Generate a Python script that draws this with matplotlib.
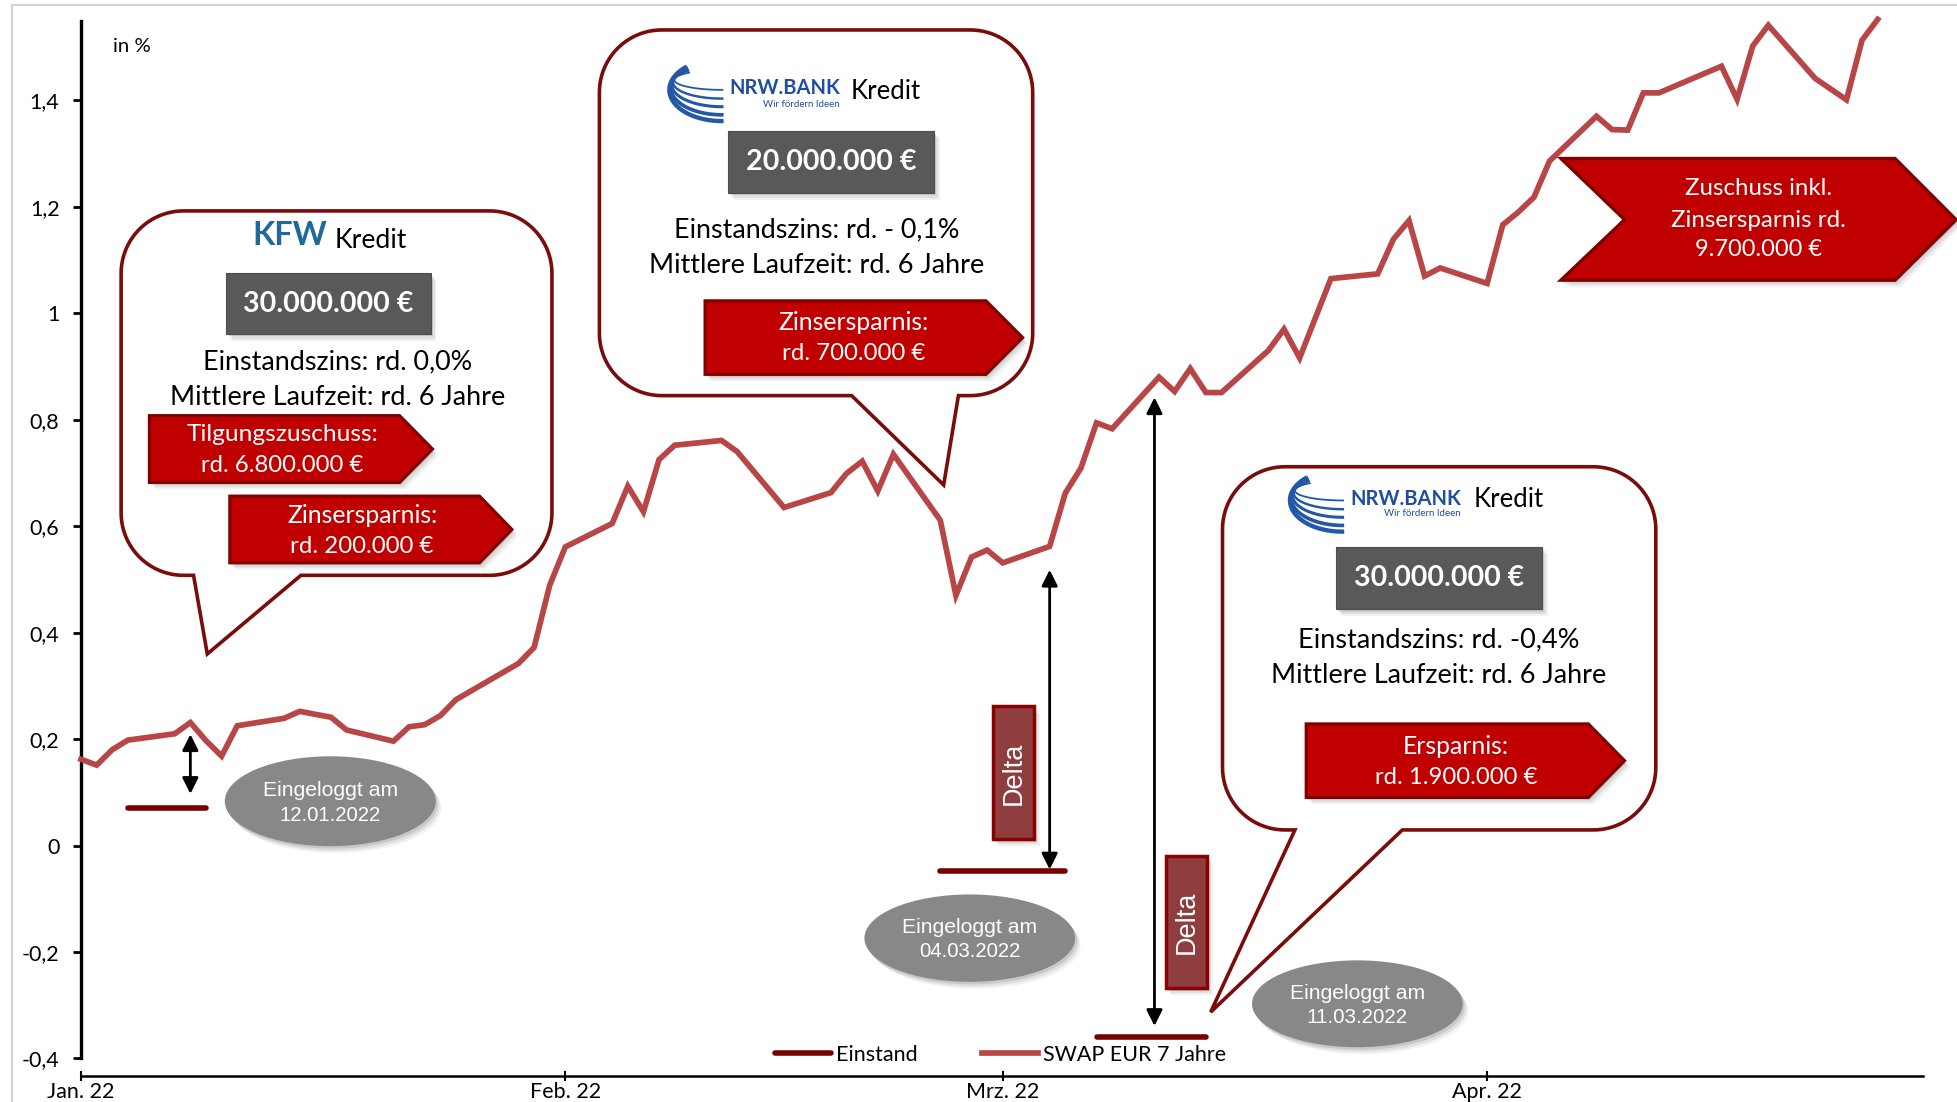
import numpy as np
import pandas as pd
import matplotlib
matplotlib.use("Agg")
import matplotlib.pyplot as plt
import matplotlib.dates as mdates
from matplotlib.patches import Polygon, Ellipse
from matplotlib import font_manager as fm

# ---------------- data ----------------
swap_dates = [
    "2022-01-04", "2022-01-05", "2022-01-06", "2022-01-07", "2022-01-10", "2022-01-11",
    "2022-01-12", "2022-01-13", "2022-01-14", "2022-01-17", "2022-01-18", "2022-01-20",
    "2022-01-21", "2022-01-24", "2022-01-25", "2022-01-26", "2022-01-27", "2022-01-28",
    "2022-02-01", "2022-02-02", "2022-02-03", "2022-02-04", "2022-02-07", "2022-02-08",
    "2022-02-09", "2022-02-10", "2022-02-11", "2022-02-14", "2022-02-15", "2022-02-18",
    "2022-02-21", "2022-02-22", "2022-02-23", "2022-02-24", "2022-02-25", "2022-02-28",
    "2022-03-01", "2022-03-02", "2022-03-03", "2022-03-04", "2022-03-07", "2022-03-08",
    "2022-03-09", "2022-03-10", "2022-03-11", "2022-03-14", "2022-03-15", "2022-03-16",
    "2022-03-17", "2022-03-18", "2022-03-21", "2022-03-22", "2022-03-23", "2022-03-25",
    "2022-03-28", "2022-03-29", "2022-03-30", "2022-03-31", "2022-04-01", "2022-04-04",
    "2022-04-05", "2022-04-06", "2022-04-07", "2022-04-08", "2022-04-11", "2022-04-12",
    "2022-04-13", "2022-04-14", "2022-04-15", "2022-04-19", "2022-04-20", "2022-04-21",
    "2022-04-22", "2022-04-25", "2022-04-27", "2022-04-28", "2022-04-29",
]
swap_values = [
    0.162, 0.151, 0.180, 0.198, 0.210, 0.231,
    0.197, 0.168, 0.225, 0.239, 0.252, 0.241,
    0.217, 0.196, 0.223, 0.227, 0.244, 0.274,
    0.342, 0.372, 0.489, 0.561, 0.605, 0.675,
    0.627, 0.725, 0.752, 0.761, 0.740, 0.635,
    0.663, 0.699, 0.722, 0.666, 0.735, 0.611,
    0.470, 0.542, 0.555, 0.531, 0.562, 0.662,
    0.709, 0.794, 0.783, 0.880, 0.853, 0.896,
    0.851, 0.851, 0.930, 0.970, 0.916, 1.065,
    1.074, 1.139, 1.174, 1.070, 1.085, 1.056,
    1.166, 1.190, 1.218, 1.286, 1.370, 1.345,
    1.344, 1.414, 1.414, 1.464, 1.402, 1.502,
    1.541, 1.441, 1.401, 1.513, 1.552,
]
einstand_start = ["2022-01-07", "2022-02-28", "2022-03-10"]
einstand_end = ["2022-01-12", "2022-03-08", "2022-03-17"]
einstand_values = [0.071, -0.047, -0.359]
delta_dates = ["2022-01-11", "2022-03-07", "2022-03-13 17:00"]
delta_top = [0.209, 0.518, 0.842]
delta_bottom = [0.097, -0.045, -0.339]
x_tick_dates = ["2022-01-04", "2022-02-04", "2022-03-04", "2022-04-04"]
x_tick_labels = ["Jan. 22", "Feb. 22", "Mrz. 22", "Apr. 22"]
y_ticks = [-0.4, -0.2, 0.0, 0.2, 0.4, 0.6, 0.8, 1.0, 1.2, 1.4]
y_tick_labels = ["-0,4", "-0,2", "0", "0,2", "0,4", "0,6", "0,8", "1", "1,2", "1,4"]
series_labels = ["Einstand", "SWAP EUR 7 Jahre"]

# ---------------- style ----------------
names = {f.name for f in fm.fontManager.ttflist}
BODY = "Lato" if "Lato" in names else "DejaVu Sans"
ARIAL = "Liberation Sans" if "Liberation Sans" in names else "DejaVu Sans"
plt.rcParams["font.family"] = [BODY, "DejaVu Sans"]

SWAP_C = "#B84646"
EIN_C = "#780000"
DARK = "#7A0C0C"
RED = "#C00000"
REDEDGE = "#7F0000"
GRAY = "#595959"
ELL = "#888888"
DELTA_F = "#8E3E3E"
DELTA_E = "#8B0000"
BLUE = "#1F4E9E"
KFW_C = "#1F6A98"

W, H = 1958, 1102
fig = plt.figure(figsize=(W / 100, H / 100), dpi=100)
fig.patch.set_facecolor("white")
renderer = fig.canvas.get_renderer()

# main axes
ax = fig.add_axes([81 / W, 1 - 1076 / H, (1923 - 81) / W, (1076 - 21) / H])
ax.set_zorder(1)
x_sw = mdates.date2num(pd.to_datetime(swap_dates))
x0 = mdates.date2num(pd.to_datetime(x_tick_dates[0]))
ax.set_xlim(x0, x0 + 117.9)
ax.set_ylim(-0.433, 1.549)

swap_line, = ax.plot(x_sw, swap_values, color=SWAP_C, lw=4.1, solid_joinstyle="miter",
                     clip_on=False, zorder=3, label=series_labels[1])
ein_lines = []
for s, e, v in zip(einstand_start, einstand_end, einstand_values):
    xs = mdates.date2num(pd.to_datetime([s, e]))
    ln, = ax.plot(xs, [v, v], color=EIN_C, lw=4, solid_capstyle="round", zorder=3)
    ein_lines.append(ln)

for d, t, b in zip(delta_dates, delta_top, delta_bottom):
    xd = mdates.date2num(pd.to_datetime(d))
    ax.annotate("", xy=(xd, b), xytext=(xd, t),
                arrowprops=dict(arrowstyle="<|-|>", color="black", lw=2.0,
                                mutation_scale=24, shrinkA=0, shrinkB=0), zorder=4)

ax.spines["top"].set_visible(False)
ax.spines["right"].set_visible(False)
ax.spines["left"].set_linewidth(2.4)
ax.spines["bottom"].set_linewidth(1.8)
ax.spines["left"].set_bounds(-0.4, 1.549)
ax.set_yticks(y_ticks)
ax.set_yticklabels(y_tick_labels)
ax.set_xticks(mdates.date2num(pd.to_datetime(x_tick_dates)))
ax.set_xticklabels(x_tick_labels)
ax.tick_params(axis="y", direction="out", length=5.5, width=2, pad=10, labelsize=15.5)
ax.tick_params(axis="x", direction="inout", length=7, width=1.5, pad=1, labelsize=15.5)
ax.patch.set_alpha(0)

fig.legend([ein_lines[0], swap_line], series_labels, loc="center left",
           bbox_to_anchor=(621 * 1.2487 / W, 1 - 845 * 1.248 / H), ncol=2, frameon=False,
           fontsize=15.5, handlelength=2.6, handletextpad=0.22, columnspacing=3.0,
           borderpad=0, borderaxespad=0)

# overlay in display units (1568 x 883)
ov = fig.add_axes([0, 0, 1, 1])
ov.set_xlim(0, 1568)
ov.set_ylim(883, 0)
ov.axis("off")
ov.set_zorder(5)
SC = W / 1568


def txt(x, y, s, fs, width=None, lo=0.82, hi=1.18, **kw):
    kw.setdefault("ha", "center")
    kw.setdefault("va", "center")
    t = ov.text(x, y, s, fontsize=fs, **kw)
    if width:
        w = t.get_window_extent(renderer).width
        f = fs * width * SC / w
        t.set_fontsize(min(max(f, lo * fs), hi * fs))
    return t


def shadow_poly(pts):
    pts = np.asarray(pts, float)
    for (dx, dy, a) in [(1.5, 2.0, 0.10), (3.0, 3.8, 0.08), (4.5, 5.5, 0.05)]:
        ov.add_patch(Polygon(pts + [dx, dy], closed=True, fc="black", ec="none", alpha=a))


def rect_pts(xa, ya, xb, yb):
    return [(xa, ya), (xb, ya), (xb, yb), (xa, yb)]


def red_arrow(xa, xb, xt, ya, yb):
    pts = [(xa, ya), (xb, ya), (xt, (ya + yb) / 2), (xb, yb), (xa, yb)]
    shadow_poly(pts)
    ov.add_patch(Polygon(pts, closed=True, fc=RED, ec=REDEDGE, lw=2.2, joinstyle="miter"))


def gray_box(xa, ya, xb, yb):
    pts = rect_pts(xa, ya, xb, yb)
    shadow_poly(pts)
    ov.add_patch(Polygon(pts, closed=True, fc=GRAY, ec="#4d4d4d", lw=0.8))


def bubble(xa, ya, xb, yb, r, tl, tr, tip):
    pts = []

    def arc(cx, cy, a0, a1):
        for a in np.radians(np.linspace(a0, a1, 24)):
            pts.append((cx + r * np.cos(a), cy + r * np.sin(a)))
    arc(xa + r, ya + r, 180, 270)
    arc(xb - r, ya + r, 270, 360)
    arc(xb - r, yb - r, 0, 90)
    pts.extend([(tr, yb), tip, (tl, yb)])
    arc(xa + r, yb - r, 90, 180)
    ov.add_patch(Polygon(pts, closed=True, fc="white", ec=DARK, lw=2.6, joinstyle="miter"))


def ellipse(cx, cy, w, h, l1, l2, y1, y2):
    for (dx, dy, a) in [(1.5, 2.0, 0.10), (3.0, 3.8, 0.08), (4.5, 5.5, 0.05)]:
        ov.add_patch(Ellipse((cx + dx, cy + dy), w, h, fc="black", ec="none", alpha=a))
    ov.add_patch(Ellipse((cx, cy), w, h, fc=ELL, ec="none"))
    txt(cx, y1, l1, 15, width=108.6, color="white", family=ARIAL)
    txt(cx, y2, l2, 15, width=81.4, color="white", family=ARIAL)


def delta_box(xa, ya, xb, yb):
    pts = rect_pts(xa, ya, xb, yb)
    shadow_poly(pts)
    ov.add_patch(Polygon(pts, closed=True, fc=DELTA_F, ec=DELTA_E, lw=2.5))
    ov.text((xa + xb) / 2, (ya + yb) / 2, "Delta", rotation=90, fontsize=19.5, color="white",
            family=ARIAL, ha="center", va="center")


def nrw_logo(xa, ya):
    # stylised swoosh: nested arcs converging top-left, fanning out bottom-right
    ends = [20, 27, 33.5, 40, 45]
    for k, ye in enumerate(ends):
        cx = xa + 42
        cy = ya + 12 + 2 * k
        a = 38 + 1.0 * k
        b = ye - (12 + 2 * k)
        t = np.radians(np.linspace(228, 88, 50))
        ov.plot(cx + a * np.cos(t), cy + b * np.sin(t), color="#2357A8",
                lw=1.3 + 0.45 * k, solid_capstyle="butt")


# page frame
ov.plot([9.4, 1568], [4.3, 4.3], color="#D4D4D4", lw=1.6)
ov.plot([9.4, 9.4], [4.3, 883], color="#D4D4D4", lw=1.6)

txt(90.5, 37, "in %", 14, width=30.5, ha="left")

# ---- KfW bubble ----
bubble(97, 169, 442, 461, 50, 155, 241, (166, 524))
txt(232, 189, "KFW", 24, width=60, color=KFW_C, fontweight="bold")
txt(297, 192.5, "Kredit", 19, width=58)
gray_box(181, 219, 345, 267.5)
txt(263, 243.5, "30.000.000 €", 21, width=135.7, color="white", fontweight="bold")
txt(270.7, 290, "Einstandszins: rd. 0,0%", 19, width=216.7)
txt(270.7, 318.7, "Mittlere Laufzeit: rd. 6 Jahre", 19, width=269.6)
red_arrow(119.6, 320, 346.4, 333, 386.6)
txt(226, 348, "Tilgungszuschuss:", 17.5, width=153.3, color="white")
txt(226, 373, "rd. 6.800.000 €", 17.5, width=129.8, color="white")
red_arrow(184, 384, 410, 397.5, 451)
txt(290, 413, "Zinsersparnis:", 17.5, width=120.3, color="white")
txt(290, 437.5, "rd. 200.000 €", 17.5, width=114.5, color="white")

# ---- NRW.BANK bubble 1 ----
bubble(480, 24, 827, 317, 50, 682, 767.5, (755.7, 388.6))
nrw_logo(536, 52)
txt(628.5, 70.5, "NRW.BANK", 15, width=89, color=BLUE, fontweight="bold")
txt(642, 83.5, "Wir fördern Ideen", 8, width=62, color=BLUE)
txt(709, 73, "Kredit", 19, width=56)
gray_box(583, 105, 748, 154.6)
txt(665.5, 130, "20.000.000 €", 21, width=135.8, color="white", fontweight="bold")
txt(653.7, 184, "Einstandszins: rd. - 0,1%", 19, width=228.8)
txt(653.7, 213, "Mittlere Laufzeit: rd. 6 Jahre", 19, width=269)
red_arrow(564.6, 789.6, 819, 241, 300)
txt(683.4, 258.7, "Zinsersparnis:", 17.5, width=120.5, color="white")
txt(683.4, 283, "rd. 700.000 €", 17.5, width=114.5, color="white")

# ---- NRW.BANK bubble 2 ----
bubble(979, 374, 1326, 665, 50, 1037, 1123, (969.5, 811))
nrw_logo(1033, 381)
txt(1125.5, 399.5, "NRW.BANK", 15, width=89, color=BLUE, fontweight="bold")
txt(1139, 411.6, "Wir fördern Ideen", 8, width=62, color=BLUE)
txt(1208, 400.5, "Kredit", 19, width=56)
gray_box(1070, 438, 1235, 488)
txt(1152.5, 463, "30.000.000 €", 21, width=135.6, color="white", fontweight="bold")
txt(1152, 512.5, "Einstandszins: rd. -0,4%", 19, width=224.9)
txt(1152, 541, "Mittlere Laufzeit: rd. 6 Jahre", 19, width=269)
red_arrow(1046, 1272, 1301, 580, 639)
txt(1166, 598, "Ersparnis:", 17.5, width=85, color="white")
txt(1166, 623, "rd. 1.900.000 €", 17.5, width=130, color="white")

# ---- big chevron ----
chev = [(1250, 127), (1517.6, 127), (1566.5, 176), (1517.6, 224.5), (1250, 224.5), (1301, 176)]
shadow_poly(chev)
ov.add_patch(Polygon(chev, closed=True, fc=RED, ec=REDEDGE, lw=2.4, joinstyle="miter"))
txt(1408.5, 150.8, "Zuschuss inkl.", 16, width=117.4, color="white")
txt(1408.5, 176.3, "Zinsersparnis rd.", 16, width=141, color="white")
txt(1408.5, 200.3, "9.700.000 €", 16, width=101.4, color="white")

# ---- ellipses and delta boxes ----
ellipse(264.5, 642, 169, 72, "Eingeloggt am", "12.01.2022", 633.5, 653.8)
ellipse(776.6, 751.7, 168.7, 70, "Eingeloggt am", "04.03.2022", 743, 762.5)
ellipse(1087, 804.3, 168.7, 69.6, "Eingeloggt am", "11.03.2022", 796, 815.5)
delta_box(795, 566, 828, 672.5)
delta_box(933.6, 685.5, 966.5, 792)

fig.savefig("out.png", dpi=100, facecolor="white")
